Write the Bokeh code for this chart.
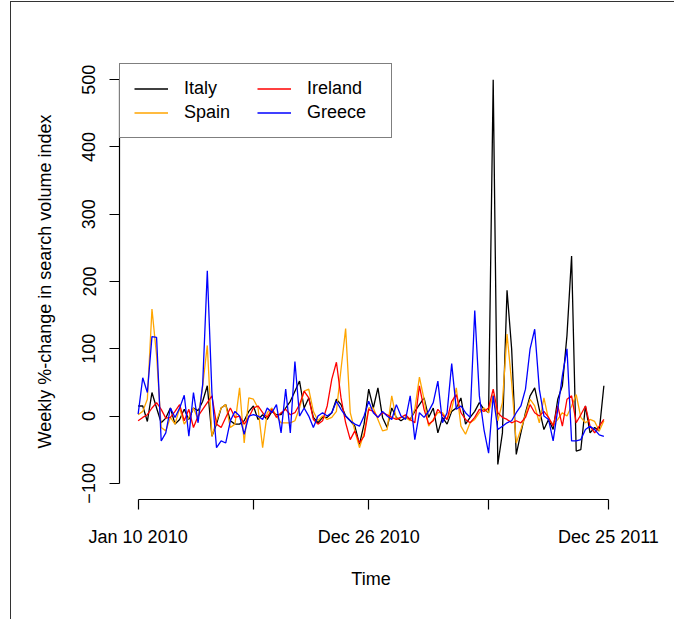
import pandas as pd
from bokeh.plotting import figure
from bokeh.models import Range1d, FixedTicker, Legend, LegendItem
from bokeh.embed import file_html
from bokeh.resources import INLINE

start_date = "2010-01-10"
n_weeks = 102
dates = pd.date_range(start_date, periods=n_weeks, freq="7D")

italy = [15, 15, -8, 35, 12, -10, -3, 12, -12, -5, 10, -5, 12, 8, 22, 45, -30, -12, 12, 17,
         -7, -12, -12, -7, 7, 15, -5, 2, -5, 7, 2, 2, 12, 22, 37, 52, 12, 27, -2, -10,
         -2, -2, 5, 25, 17, 0, -7, -15, -42, -12, 40, 12, 42, -2, -17, 12, -2, -7, -2, -5,
         7, 17, 27, -2, 12, -25, -2, -12, 7, 12, 27, -12, -2, 7, 20, 10, 5, 500, -72, -25,
         187, 100, -57, -25, 5, 30, 42, 10, -20, -5, -20, 25, 45, 120, 238, -52, -50, 15, -25, -17,
         -22, 45]
spain = [2, 7, 25, 159, 90, -17, -22, -2, -12, 12, -12, -2, 12, -5, 45, 105, -30, -7, 12, 17,
         -17, -12, 42, -40, 27, 25, 12, -47, 5, 12, 0, -10, -10, -10, -7, 12, 37, 40, 7, -7,
         0, -5, -2, 7, 70, 130, 5, -22, -47, -25, 12, 12, -5, -22, -20, 30, -5, -2, -2, -7,
         10, 58, 25, -15, -5, 5, 5, -5, 10, 42, -15, -27, -10, -5, 5, 12, 5, 32, -7, 20,
         122, 50, -40, -20, 2, 25, 15, -10, 27, -5, -12, -5, 5, 0, 15, 32, -2, -10, -5, -8,
         -22, -7]
ireland = [-7, -2, 2, 12, 20, 10, -3, -2, 7, 17, -7, 10, -17, 0, 10, 20, 30, -12, -17, -2,
           12, -2, 0, -12, -2, 12, 15, 5, -2, 10, -2, 5, 10, 2, 5, 17, 37, 27, -5, -12,
           -7, 15, 55, 80, 27, -10, -35, -22, -40, -30, 10, 7, -2, 5, 2, -2, -5, -2, 2, -5,
           -10, 45, 10, -12, -7, 10, 2, -5, 22, 32, 5, -5, -10, -2, 10, 7, 12, 40, 5, -2,
           -5, -10, -7, -10, -2, 17, 5, 0, 7, -2, -15, 15, -15, 25, 30, -10, 2, 15, -15, -25,
           -15, -5]
greece = [3, 57, 35, 118, 117, -37, -25, 12, -2, 12, 31, -30, 35, -10, 47, 216, 35, -47, -37, -40,
          -7, 7, 0, -27, 0, 2, 0, -5, 12, 5, 17, -25, 40, -25, 81, 0, 12, 0, -17, 0,
          5, 0, 5, 22, 10, 0, -7, -12, -15, 0, 22, 5, -2, 7, 0, -5, 17, 0, -5, 30,
          -35, 5, -2, 7, 20, 52, -10, 5, 78, 10, 15, 5, -2, 157, 30, -20, -55, 30, -20, -15,
          -10, -7, 5, 15, 40, 100, 129, 40, 0, -5, -37, 10, 60, 100, -37, -37, -35, -20, -15, -20,
          -28, -30]

series_names = ["Italy", "Spain", "Ireland", "Greece"]
series_values = [italy, spain, ireland, greece]
series_colors = ["black", "orange", "red", "blue"]

y_ticks = [-100, 0, 100, 200, 300, 400, 500]
x_tick_dates = ["2010-01-10", "2010-07-04", "2010-12-26", "2011-06-26", "2011-12-25"]
x_tick_labels = ["Jan 10 2010", "", "Dec 26 2010", "", "Dec 25 2011"]
y_label = "Weekly %-change in search volume index"
x_label = "Time"

FONT = "Liberation Sans"
FS = "18px"

def ms(t):
    return pd.Timestamp(t).value / 1e6

x0 = ms(dates[0])
x1 = ms(dates[-1])
xpad = (x1 - x0) * 0.04
ylo, yhi = -100, 500
ypad = (yhi - ylo) * 0.04

p = figure(width=663, height=617, frame_width=503, frame_height=436,
           x_axis_type="datetime", output_backend="svg", toolbar_location=None,
           x_range=Range1d(x0 - xpad, x1 + xpad), y_range=Range1d(ylo - ypad, yhi + ypad),
           min_border_left=108, min_border_right=52, min_border_top=61, min_border_bottom=120)
p.styles = {"margin-left": "10px", "margin-top": "1px",
            "border-left": "1px solid #333333", "border-top": "1px solid #333333"}
p.background_fill_color = "white"
p.border_fill_color = "white"
p.outline_line_color = None
p.grid.visible = False

renderers = []
for name, vals, col in zip(series_names, series_values, series_colors):
    r = p.line(dates, vals, line_color=col, line_width=1.3)
    renderers.append(r)

tick_ms = [ms(d) for d in x_tick_dates]
p.xaxis.ticker = FixedTicker(ticks=tick_ms)
p.xaxis.major_label_overrides = {t: lab for t, lab in zip(tick_ms, x_tick_labels)}
p.xaxis.bounds = (tick_ms[0], tick_ms[-1])
p.yaxis.ticker = FixedTicker(ticks=y_ticks)
p.yaxis.bounds = (ylo, yhi)
p.yaxis.major_label_orientation = "vertical"

for ax in (p.xaxis[0], p.yaxis[0]):
    ax.minor_tick_line_color = None
    ax.major_tick_in = 0
    ax.major_tick_out = 10
    ax.axis_line_color = "black"
    ax.axis_line_width = 1.2
    ax.major_tick_line_color = "black"
    ax.major_tick_line_width = 1.2
    ax.major_label_text_font = FONT
    ax.major_label_text_font_size = FS
    ax.major_label_text_color = "black"
    ax.axis_label_text_font = FONT
    ax.axis_label_text_font_size = FS
    ax.axis_label_text_font_style = "normal"
    ax.axis_label_text_color = "black"

p.xaxis.axis_label = x_label
p.yaxis.axis_label = y_label
p.xaxis.major_label_standoff = 17
p.xaxis.axis_label_standoff = 19
p.yaxis.major_label_standoff = 14
p.yaxis.axis_label_standoff = 25

items = [LegendItem(label=n, renderers=[r]) for n, r in zip(series_names, renderers)]
legend = Legend(items=items, ncols=2, location="top_left", margin=0, padding=14, spacing=3,
                glyph_width=34, glyph_height=19, label_standoff=16, label_width=70, label_height=19,
                border_line_color="black", border_line_width=1.2, background_fill_color="white",
                background_fill_alpha=1, label_text_font=FONT, label_text_font_size=FS,
                label_text_color="black")
p.add_layout(legend)

open("out.html", "w").write(file_html(p, INLINE))
